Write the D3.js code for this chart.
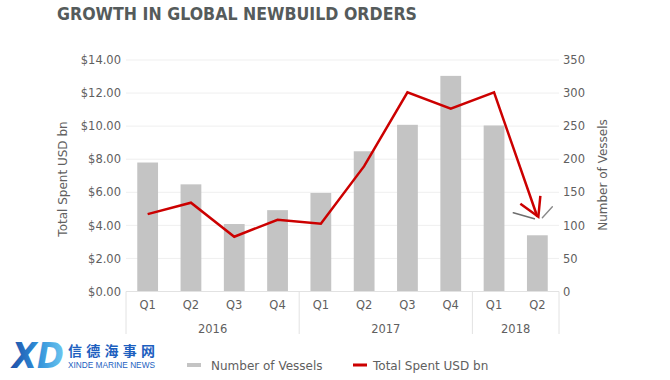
<!DOCTYPE html>
<html><head><meta charset="utf-8">
<script src="https://cdn.jsdelivr.net/npm/d3@7"></script>
<style>body{margin:0;background:#fff}svg{display:block}</style>
</head><body>
<svg id="c" width="670" height="380"></svg>
<script>
const years = ["2016","2016","2016","2016","2017","2017","2017","2017","2018","2018"];
const quarters = ["Q1","Q2","Q3","Q4","Q1","Q2","Q3","Q4","Q1","Q2"];
const vessels = [195,162,102,123,149,212,252,326,251,85];
const spent = [4.68,5.37,3.31,4.34,4.10,7.58,12.04,11.05,12.04,4.52];
const leftTicks = [0,2,4,6,8,10,12,14];
const rightTicks = [0,50,100,150,200,250,300,350];
const title = "GROWTH IN GLOBAL NEWBUILD ORDERS";
const leftTitle = "Total Spent USD bn";
const rightTitle = "Number of Vessels";
const legendItems = ["Number of Vessels","Total Spent USD bn"];

const svg = d3.select("#c");
const F = "'DejaVu Sans', sans-serif";
const txt = "#5f6060";
const L = 126, R = 559, T = 60, B = 291.5;
const idx = d3.range(quarters.length);
const x = d3.scaleBand().domain(idx).range([L,R]).paddingInner(0.52).paddingOuter(0.26);
const yL = d3.scaleLinear().domain([0,14]).range([B,T]);
const yR = d3.scaleLinear().domain([0,350]).range([B,T]);
const step = x.step();

// title
svg.append("text").attr("x",57).attr("y",20).text(title)
  .attr("font-family",F).attr("font-weight","bold").attr("font-size",18)
  .attr("fill","#555b5b").attr("textLength",360).attr("lengthAdjust","spacingAndGlyphs");

// gridlines
svg.append("g").selectAll("line").data(leftTicks.slice(1)).join("line")
  .attr("x1",L).attr("x2",R).attr("y1",d=>yL(d)).attr("y2",d=>yL(d))
  .attr("stroke","#efefef").attr("stroke-width",1);

// left axis
const ga = svg.append("g").attr("transform",`translate(${L},0)`)
  .call(d3.axisLeft(yL).tickValues(leftTicks).tickSize(0).tickPadding(5).tickFormat(d=>"$"+d3.format(".2f")(d)));
ga.select(".domain").remove();
ga.selectAll("text").attr("font-family",F).attr("font-size",11.5).attr("fill",txt);

// right axis
const gr = svg.append("g").attr("transform",`translate(${R},0)`)
  .call(d3.axisRight(yR).tickValues(rightTicks).tickSize(0).tickPadding(4));
gr.select(".domain").remove();
gr.selectAll("text").attr("font-family",F).attr("font-size",11.5).attr("fill",txt);

// bars
svg.append("g").selectAll("rect").data(idx).join("rect")
  .attr("x",i=>x(i)).attr("width",x.bandwidth())
  .attr("y",i=>yR(vessels[i])).attr("height",i=>B-yR(vessels[i]))
  .attr("fill","#c4c4c4");

// x axis line
svg.append("line").attr("x1",L).attr("x2",R).attr("y1",B).attr("y2",B)
  .attr("stroke","#e2e2e2").attr("stroke-width",1);

// quarter labels
svg.append("g").selectAll("text").data(idx).join("text")
  .attr("x",i=>x(i)+x.bandwidth()/2).attr("y",309).attr("text-anchor","middle")
  .text(i=>quarters[i]).attr("font-family",F).attr("font-size",11.5).attr("fill",txt);

// year groups
const groups = d3.groups(idx, i=>years[i]).map(([y,arr])=>({y, s:d3.min(arr), e:d3.max(arr)+1}));
const seps = [0, ...groups.map(g=>g.e)];
svg.append("g").selectAll("line").data(seps).join("line")
  .attr("x1",i=>L+i*step).attr("x2",i=>L+i*step).attr("y1",B).attr("y2",334)
  .attr("stroke","#e2e2e2").attr("stroke-width",1);
svg.append("g").selectAll("text").data(groups).join("text")
  .attr("x",g=>L+(g.s+g.e)/2*step).attr("y",333).attr("text-anchor","middle")
  .text(g=>g.y).attr("font-family",F).attr("font-size",11.5).attr("fill",txt);

// line
const cx = i=>x(i)+x.bandwidth()/2;
svg.append("path").datum(idx)
  .attr("d", d3.line().x(cx).y(i=>yL(spent[i])))
  .attr("fill","none").attr("stroke","#cc0000").attr("stroke-width",2.5).attr("stroke-linejoin","miter");

// arrow head + emphasis marks at last point
const li = idx[idx.length-1];
const px = cx(li), py = yL(spent[li]);
svg.append("path").attr("d",`M${px-17},${py-13}L${px+1},${py}L${px+3},${py-21}`)
  .attr("fill","none").attr("stroke","#cc0000").attr("stroke-width",2.5).attr("stroke-linejoin","miter");
svg.append("path").attr("d",`M${px-24},${py-4}L${px-3},${py+2}`)
  .attr("stroke","#6e6e6e").attr("stroke-width",1.6).attr("stroke-linecap","round");
svg.append("path").attr("d",`M${px+5},${py+1}L${px+15},${py-10}`)
  .attr("stroke","#8a8a8a").attr("stroke-width",1.4).attr("stroke-linecap","round");

// axis titles
svg.append("text").attr("transform",`translate(67,179) rotate(-90)`).attr("text-anchor","middle")
  .text(leftTitle).attr("font-family",F).attr("font-size",12).attr("fill",txt);
svg.append("text").attr("transform",`translate(607,175) rotate(-90)`).attr("text-anchor","middle")
  .text(rightTitle).attr("font-family",F).attr("font-size",12).attr("fill",txt);

// legend
const lg = svg.append("g");
lg.append("rect").attr("x",187).attr("y",363).attr("width",14).attr("height",4).attr("fill","#c4c4c4");
lg.append("text").attr("x",211).attr("y",369.5).text(legendItems[0]).attr("font-family",F).attr("font-size",12).attr("fill",txt);
lg.append("rect").attr("x",353).attr("y",363.5).attr("width",14).attr("height",3).attr("fill","#cc0000");
lg.append("text").attr("x",373).attr("y",369.5).text(legendItems[1]).attr("font-family",F).attr("font-size",12).attr("fill",txt);

// logo
const defs = svg.append("defs");
const grad = defs.append("linearGradient").attr("id","lg1").attr("x1","0").attr("x2","1").attr("y1","0").attr("y2","0");
grad.append("stop").attr("offset","0").attr("stop-color","#1f4fa8");
grad.append("stop").attr("offset","0.5").attr("stop-color","#2f8fd8");
grad.append("stop").attr("offset","1").attr("stop-color","#6cc6f0");
svg.append("text").attr("x",12).attr("y",368).text("XD")
  .attr("font-family",F).attr("font-weight","bold").attr("font-style","italic").attr("font-size",36)
  .attr("fill","url(#lg1)").attr("textLength",52).attr("lengthAdjust","spacingAndGlyphs");
svg.append("text").attr("x",68).attr("y",356).text("信德海事网")
  .attr("font-family","'Noto Sans CJK SC', sans-serif").attr("font-weight","bold").attr("font-size",14)
  .attr("fill","#1d5fbf").attr("textLength",87).attr("lengthAdjust","spacing");
svg.append("text").attr("x",68).attr("y",368).text("XINDE MARINE NEWS")
  .attr("font-family","'Liberation Sans', sans-serif").attr("font-size",8.5)
  .attr("fill","#1d5fbf").attr("textLength",87).attr("lengthAdjust","spacingAndGlyphs");
</script>
</body></html>
